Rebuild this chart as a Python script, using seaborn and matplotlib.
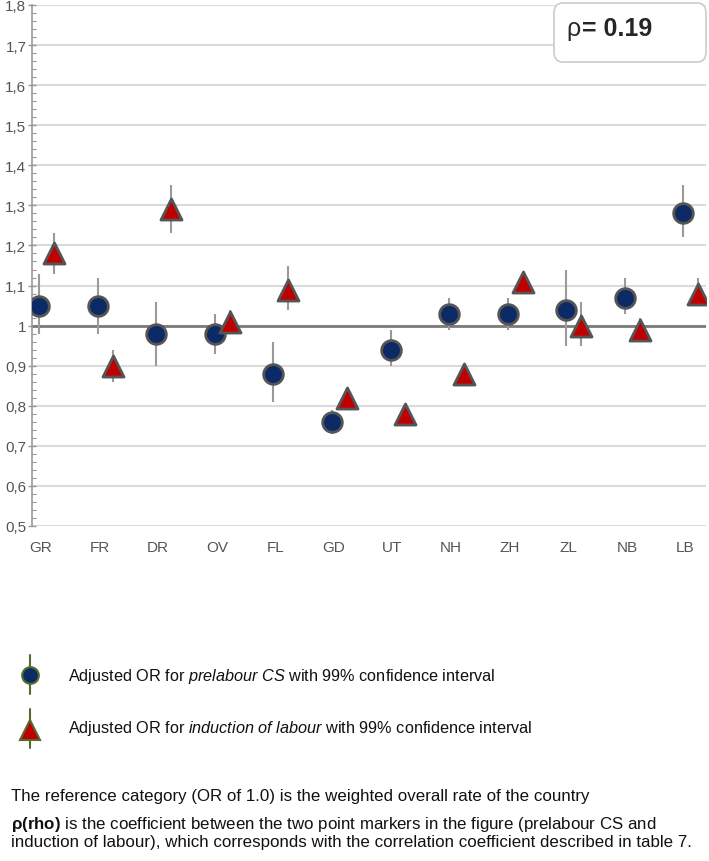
import numpy as np
import pandas as pd
import matplotlib
matplotlib.use("Agg")
from matplotlib import pyplot as plt
from matplotlib.lines import Line2D
from matplotlib.patches import FancyBboxPatch
from matplotlib.ticker import FuncFormatter, MultipleLocator
import seaborn as sns

# regio's
regions = ['GR', 'FR', 'DR', 'OV', 'FL', 'GD', 'UT', 'NH', 'ZH', 'ZL', 'NB', 'LB']

# prelabour CS: OR en 99% BI
cs_or = [1.05, 1.05, 0.98, 0.98, 0.88, 0.76, 0.94, 1.03, 1.03, 1.04, 1.07, 1.28]
cs_lo = [0.98, 0.98, 0.90, 0.93, 0.81, 0.73, 0.90, 0.99, 0.99, 0.95, 1.03, 1.22]
cs_hi = [1.13, 1.12, 1.06, 1.03, 0.96, 0.79, 0.99, 1.07, 1.07, 1.14, 1.12, 1.35]

# inductie: OR en 99% BI
ind_or = [1.18, 0.90, 1.29, 1.01, 1.09, 0.82, 0.78, 0.88, 1.11, 1.00, 0.99, 1.08]
ind_lo = [1.13, 0.86, 1.23, 0.98, 1.04, 0.81, 0.77, 0.87, 1.08, 0.95, 0.98, 1.05]
ind_hi = [1.23, 0.94, 1.35, 1.04, 1.15, 0.83, 0.79, 0.89, 1.12, 1.06, 1.02, 1.12]

rho = 0.19

sns.set_style("white")
plt.rcParams['font.family'] = ['Liberation Sans', 'DejaVu Sans']
plt.rcParams['mathtext.fontset'] = 'custom'
plt.rcParams['mathtext.rm'] = 'Liberation Sans'
plt.rcParams['mathtext.it'] = 'Liberation Sans:italic'
plt.rcParams['mathtext.bf'] = 'Liberation Sans:bold'

W, H = 709, 862
fig = plt.figure(figsize=(W / 100, H / 100), dpi=100)
ax = fig.add_axes([32 / W, 1 - 527 / H, (706 - 32) / W, (527 - 6) / H])

pos = np.arange(len(regions))
cs = pd.DataFrame({'x': pos - 0.035, 'or': cs_or, 'lo': cs_lo, 'hi': cs_hi})
ind = pd.DataFrame({'x': pos + 0.22, 'or': ind_or, 'lo': ind_lo, 'hi': ind_hi})

# grid + referentielijn
for v in np.arange(0.5, 1.81, 0.1):
    ax.axhline(v, color='#dadada', lw=1.5, zorder=0)
ax.axhline(1.0, color='#7a7a7a', lw=2, zorder=1)

# betrouwbaarheidsintervallen
ax.vlines(cs['x'], cs['lo'], cs['hi'], color='#9a9a9a', lw=1.5, zorder=2)
ax.vlines(ind['x'], ind['lo'], ind['hi'], color='#9a9a9a', lw=1.5, zorder=2)

sns.scatterplot(data=cs, x='x', y='or', ax=ax, marker='o', s=200, color='#0b2a66',
                edgecolor='#555555', linewidth=2, zorder=3)
sns.scatterplot(data=ind, x='x', y='or', ax=ax, marker='^', s=230, color='#c00000',
                edgecolor='#555555', linewidth=2, zorder=3)

ax.set_xlim(-0.154, 11.35)
ax.set_ylim(0.5, 1.8)
ax.set_xticks(pos)
ax.set_xticklabels(regions)
ax.yaxis.set_major_locator(MultipleLocator(0.1))
ax.yaxis.set_minor_locator(MultipleLocator(0.02))
ax.yaxis.set_major_formatter(FuncFormatter(
    lambda v, p: '1' if abs(v - 1) < 1e-6 else ('%.1f' % v).replace('.', ',')))
ax.set_xlabel('')
ax.set_ylabel('')

for s in ['top', 'right', 'bottom']:
    ax.spines[s].set_visible(False)
ax.spines['left'].set_color('#999999')
ax.spines['left'].set_linewidth(1.2)
ax.tick_params(axis='y', which='major', direction='inout', length=6, width=1,
               color='#999999', labelsize=11, labelcolor='#555555', pad=1, left=True)
ax.tick_params(axis='y', which='minor', direction='in', length=3, width=0.8,
               color='#999999', left=True)
ax.tick_params(axis='x', length=0, labelsize=11, labelcolor='#555555', pad=10)

# rho box
fig.add_artist(FancyBboxPatch((554 / W, 1 - 63 / H), 152 / W, 59 / H,
                              boxstyle='round,pad=0,rounding_size=0.012',
                              transform=fig.transFigure, facecolor='white',
                              edgecolor='#cccccc', lw=1.2, zorder=5))
fig.text(566 / W, 1 - 29 / H, 'ρ', fontsize=18, va='center', ha='left', zorder=6)
fig.text(582 / W, 1 - 29 / H, '= %.2f' % rho, fontsize=18, fontweight='bold',
         va='center', ha='left', zorder=6)

# legenda onder de grafiek
olive = '#556b2f'
fig.add_artist(Line2D([30 / W, 30 / W], [1 - 656 / H, 1 - 695 / H], color=olive, lw=1.5,
                      transform=fig.transFigure))
fig.add_artist(Line2D([30 / W], [1 - 676 / H], marker='o', markersize=12, color='#0b2a66',
                      markeredgecolor=olive, markeredgewidth=1.5, transform=fig.transFigure))
fig.add_artist(Line2D([30 / W, 30 / W], [1 - 710 / H, 1 - 749 / H], color=olive, lw=1.5,
                      transform=fig.transFigure))
fig.add_artist(Line2D([30 / W], [1 - 731 / H], marker='^', markersize=14, color='#c00000',
                      markeredgecolor=olive, markeredgewidth=1.5, transform=fig.transFigure))

lfs = 11.7
fig.text(68 / W, 1 - 677 / H, 'Adjusted OR for $\\it{prelabour\\ CS}$ with 99% confidence interval',
         fontsize=lfs, va='center', ha='left', color='#111111')
fig.text(68 / W, 1 - 729 / H, 'Adjusted OR for $\\it{induction\\ of\\ labour}$ with 99% confidence interval',
         fontsize=lfs, va='center', ha='left', color='#111111')

fs = 12.2
fig.text(11 / W, 1 - 797 / H, 'The reference category (OR of 1.0) is the weighted overall rate of the country',
         fontsize=fs, va='center', ha='left', color='#111111')
fig.text(11 / W, 1 - 825 / H, '$\\bf{ρ(rho)}$ is the coefficient between the two point markers in the figure (prelabour CS and',
         fontsize=fs, va='center', ha='left', color='#111111')
fig.text(11 / W, 1 - 843 / H, 'induction of labour), which corresponds with the correlation coefficient described in table 7.',
         fontsize=fs, va='center', ha='left', color='#111111')

plt.savefig('out.png', dpi=100)
